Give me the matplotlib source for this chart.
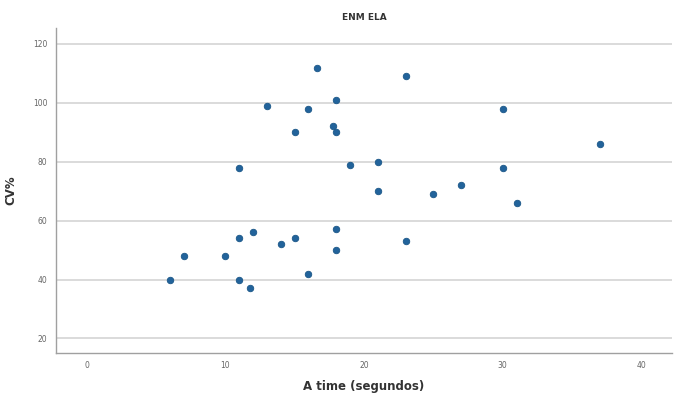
import matplotlib
matplotlib.use("Agg")
import matplotlib.pyplot as plt

# Time (seconds) and CV% per subject
time_s = [6, 7, 10, 11, 11, 11, 11.8, 12, 13, 14, 15, 15, 16, 16, 16.6, 17.8,
          18, 18, 18, 18, 19, 21, 21, 23, 23, 25, 27, 30, 30, 31, 37]
cv_pct = [40, 48, 48, 40, 54, 78, 37, 56, 99, 52, 54, 90, 42, 98, 112, 92,
          90, 101, 57, 50, 79, 80, 70, 109, 53, 69, 72, 98, 78, 66, 86]

x_ticks = [0, 10, 20, 30, 40]
y_ticks = [20, 40, 60, 80, 100, 120]

fig = plt.figure(figsize=(6.74, 3.95), dpi=100)
ax = fig.add_axes([0.083, 0.106, 0.914, 0.823])

ax.scatter(time_s, cv_pct, s=22, color="#22639b", edgecolors="#1b5788",
           linewidths=0.6, zorder=3)

ax.set_xlim(-2.2, 42.2)
ax.set_ylim(15, 125.4)
ax.set_xticks(x_ticks)
ax.set_yticks(y_ticks)
ax.tick_params(axis="both", length=0, labelsize=5.5, colors="#666666", pad=6)

ax.yaxis.grid(True, color="#dadada", linewidth=1.4)
ax.xaxis.grid(False)
ax.set_axisbelow(True)

for side in ("top", "right"):
    ax.spines[side].set_visible(False)
for side in ("left", "bottom"):
    ax.spines[side].set_color("#a0a0a0")
    ax.spines[side].set_linewidth(1.0)

ax.set_title("ENM ELA", fontsize=6.5, fontweight="bold", color="#333333", pad=6)
ax.set_xlabel("A time (segundos)", fontsize=8.5, fontweight="bold",
              color="#333333", labelpad=7)
ax.set_ylabel("CV%", fontsize=8.5, fontweight="bold", color="#333333",
              labelpad=11)

fig.savefig("out.png", dpi=100)
